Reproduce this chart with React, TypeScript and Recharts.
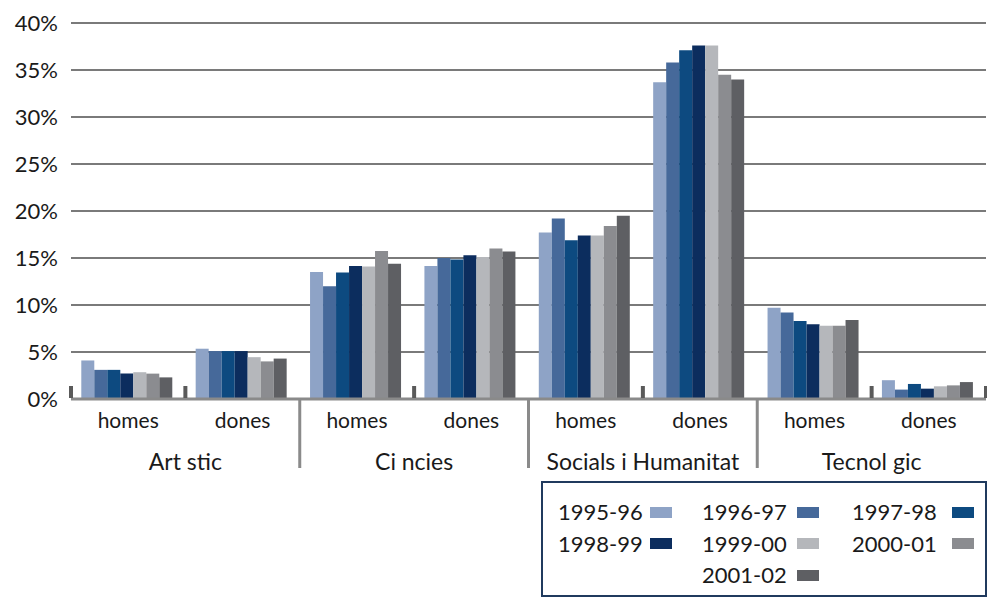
import { BarChart, Bar, XAxis, YAxis, CartesianGrid } from "recharts";

// outer groups and inner categories of the axis
const groups = ["Art stic", "Ci ncies", "Socials i Humanitat", "Tecnol gic"];
const sexes = ["homes", "dones"];
const years = ["1995-96", "1996-97", "1997-98", "1998-99", "1999-00", "2000-01", "2001-02"];

// % per year, order: Art homes, Art dones, Ci homes, Ci dones, Soc homes, Soc dones, Tec homes, Tec dones
const y1995 = [4.1, 5.35, 13.5, 14.15, 17.7, 33.7, 9.7, 2.0];
const y1996 = [3.1, 5.1, 12.0, 15.0, 19.2, 35.8, 9.2, 1.0];
const y1997 = [3.1, 5.1, 13.45, 14.85, 16.9, 37.1, 8.3, 1.6];
const y1998 = [2.7, 5.1, 14.15, 15.3, 17.4, 37.6, 7.95, 1.1];
const y1999 = [2.85, 4.45, 14.1, 15.1, 17.4, 37.6, 7.8, 1.35];
const y2000 = [2.7, 4.0, 15.75, 16.0, 18.4, 34.5, 7.8, 1.45];
const y2001 = [2.3, 4.3, 14.4, 15.7, 19.5, 34.0, 8.4, 1.8];

const yTicks = [0, 5, 10, 15, 20, 25, 30, 35, 40];

const colors = ["#8ea3c6", "#46699a", "#0d4a80", "#0c2d5e", "#b5b7bb", "#8b8c90", "#5e5f63"];
const font = "Lato, 'Open Sans', sans-serif";

const series = [y1995, y1996, y1997, y1998, y1999, y2000, y2001];
const data = groups.flatMap((g, gi) =>
  sexes.map((s, si) => {
    const row: Record<string, string | number> = { group: g, sub: s };
    years.forEach((yr, k) => {
      row[yr] = series[k][gi * 2 + si];
    });
    return row;
  })
);

function SubTick(props: any) {
  const { x, y, payload, index, width, visibleTicksCount } = props;
  const count = visibleTicksCount || 8;
  const band = (width || 915) / count;
  const marks: number[] = [];
  if (index === 0) marks.push(x - band / 2);
  if (index % 2 === 0) marks.push(x + band / 2);
  if (index === count - 1) marks.push(x + band / 2);
  return (
    <g>
      {marks.map((mx, i) => (
        <rect key={i} x={mx - 2} y={y - 21} width={4} height={12} fill="#5a5a5a" />
      ))}
      <text x={x} y={y + 21} textAnchor="middle" fontSize={21} fontFamily={font} fill="#1a1a1a">
        {payload.value}
      </text>
    </g>
  );
}

function GroupTick(props: any) {
  const { x, y, payload, index, width, visibleTicksCount } = props;
  const band = (width || 915) / (visibleTicksCount || 4);
  return (
    <g>
      {index > 0 && (
        <line x1={x - band / 2} x2={x - band / 2} y1={y - 38} y2={y + 31} stroke="#8a8a8a" strokeWidth={3} />
      )}
      <text x={x} y={y + 33} textAnchor="middle" fontSize={23} fontFamily={font} fill="#1a1a1a">
        {payload.value}
      </text>
    </g>
  );
}

const legendCols = [
  { left: 15, labelW: 92 },
  { left: 159, labelW: 95 },
  { left: 309, labelW: 100 },
];
// grid slot for each year: [column, row]
const legendSlots = [
  [0, 0], [1, 0], [2, 0],
  [0, 1], [1, 1], [2, 1],
  [1, 2],
];

export default function App() {
  return (
    <div style={{ position: "relative", width: 987, height: 598, background: "#fff" }}>
      <style>{"body{margin:0}"}</style>
      <BarChart
        width={987}
        height={598}
        data={data}
        margin={{ top: 23, right: 1, bottom: 99, left: 0 }}
        barCategoryGap="9%"
        barGap={0}
      >
        <CartesianGrid horizontal vertical={false} stroke="#7a7a7a" strokeWidth={2} />
        <YAxis
          domain={[0, 40]}
          ticks={yTicks}
          width={71}
          axisLine={false}
          tickLine={false}
          tickMargin={7}
          tickFormatter={(v) => `${v}%`}
          tick={{ fontSize: 22, fontFamily: font, fill: "#1a1a1a" }}
        />
        <XAxis
          dataKey="sub"
          height={30}
          tickLine={false}
          axisLine={{ stroke: "#8a8a8a", strokeWidth: 3 }}
          tick={<SubTick />}
          interval={0}
        />
        <XAxis
          xAxisId="grp"
          dataKey="group"
          allowDuplicatedCategory={false}
          height={70}
          tickLine={false}
          axisLine={false}
          tick={<GroupTick />}
          interval={0}
        />
        {years.map((yr, k) => (
          <Bar key={yr} dataKey={yr} fill={colors[k]} isAnimationActive={false} />
        ))}
      </BarChart>
      <div
        style={{
          position: "absolute",
          left: 541,
          top: 481,
          width: 442,
          height: 112,
          border: "2px solid #203a5e",
          fontFamily: font,
          fontSize: 22,
          color: "#1a1a1a",
        }}
      >
        {years.map((yr, k) => {
          const [c, r] = legendSlots[k];
          const col = legendCols[c];
          return (
            <div
              key={yr}
              style={{
                position: "absolute",
                left: col.left,
                top: 14 + r * 31.5,
                display: "flex",
                alignItems: "center",
                lineHeight: "30px",
              }}
            >
              <span style={{ width: col.labelW }}>{yr}</span>
              <span style={{ width: 22, height: 11, background: colors[k], display: "inline-block" }} />
            </div>
          );
        })}
      </div>
    </div>
  );
}
